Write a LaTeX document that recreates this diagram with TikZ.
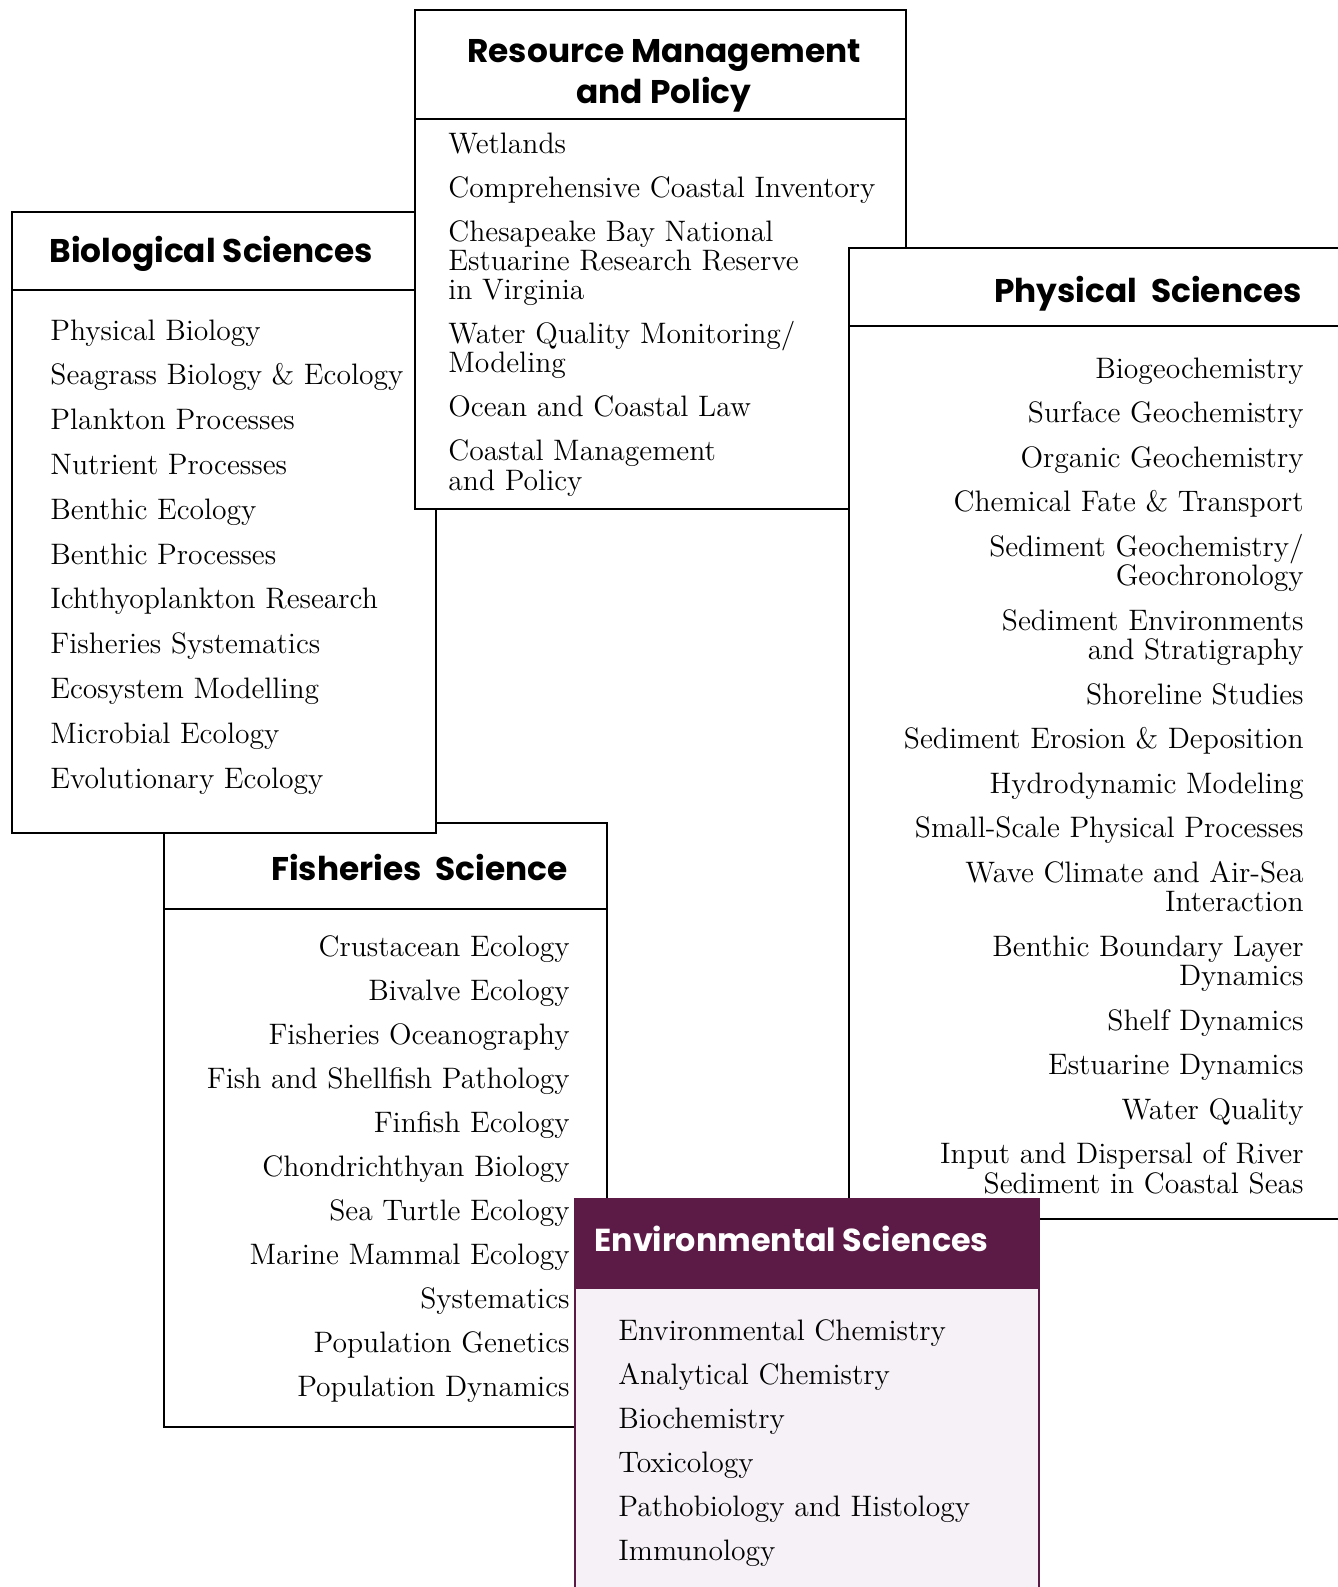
\documentclass[tikz,border=0pt]{standalone}
\usepackage{fontspec}
\usepackage{xcolor}
\newfontfamily\headfont{Poppins}
\definecolor{plum}{RGB}{92,26,70}
\definecolor{lilac}{RGB}{245,241,246}

\begin{document}
\begin{tikzpicture}[
    x=0.5pt, y=-0.5pt,
    box/.style={draw, fill=white, line width=1.2pt},                                  % Subject boxes
    rule/.style={line width=1.2pt},                                                   % Line under a heading
    head/.style={font={\headfont\bfseries\fontsize{16.4}{20.5}\selectfont}, inner sep=0pt}, % Box headings
    items/.style={font={\fontsize{14.8}{14.6}\selectfont}, inner sep=0pt}            % Lists of topics
]
\useasboundingbox (0,0) rectangle (1338,1587);
\clip (0,0) rectangle (1338,1587);

% --- FISHERIES SCIENCE (lowest) ---
\draw[box] (164,823) rectangle (607,1427);
\draw[rule] (164,909) -- (607,909);
\node[head, anchor=base east] (fishhead) at (568,880) {Fisheries~~Science};
\node[items, align=right, anchor=base east] (fishlist) at (570,1396) {
    Crustacean Ecology\\[7.4pt] Bivalve Ecology\\[7.4pt] Fisheries Oceanography\\[7.4pt]
    Fish and Shellfish Pathology\\[7.4pt] Finfish Ecology\\[7.4pt] Chondrichthyan Biology\\[7.4pt]
    Sea Turtle Ecology\\[7.4pt] Marine Mammal Ecology\\[7.4pt] Systematics\\[7.4pt]
    Population Genetics\\[7.4pt] Population Dynamics};

% --- BIOLOGICAL SCIENCES ---
\draw[box] (12,212) rectangle (436,833);
\draw[rule] (12,290) -- (436,290);
\node[head, anchor=base west] (biohead) at (49,262) {Biological Sciences};
\node[items, align=left, anchor=base west] (biolist) at (50,788) {
    Physical Biology\\[7.8pt] Seagrass Biology \& Ecology\\[7.8pt] Plankton Processes\\[7.8pt]
    Nutrient Processes\\[7.8pt] Benthic Ecology\\[7.8pt] Benthic Processes\\[7.8pt]
    Ichthyoplankton Research\\[7.8pt] Fisheries Systematics\\[7.8pt] Ecosystem Modelling\\[7.8pt]
    Microbial Ecology\\[7.8pt] Evolutionary Ecology};

% --- RESOURCE MANAGEMENT AND POLICY ---
\draw[box] (415,10) rectangle (906,509);
\draw[rule] (415,119) -- (906,119);
\node[head, align=center, anchor=base] (reshead) at (664,103) {Resource Management\\and Policy};
\node[items, align=left, anchor=base west] (reslist) at (448,490) {
    Wetlands\\[7.4pt] Comprehensive Coastal Inventory\\[7.4pt]
    Chesapeake Bay National\\ Estuarine Research Reserve\\ in Virginia\\[7.4pt]
    Water Quality Monitoring/\\ Modeling\\[7.4pt] Ocean and Coastal Law\\[7.4pt]
    Coastal Management\\ and Policy};

% --- PHYSICAL SCIENCES ---
\draw[box] (849,248) rectangle (1360,1219);
\draw[rule] (849,326) -- (1360,326);
\node[head, anchor=base east] (physhead) at (1302,302) {Physical~~Sciences};
\node[items, align=right, anchor=base east] (physlist) at (1304,1193) {
    Biogeochemistry\\[7.7pt] Surface Geochemistry\\[7.7pt] Organic Geochemistry\\[7.7pt]
    Chemical Fate \& Transport\\[7.7pt] Sediment Geochemistry/\\ Geochronology\\[7.7pt]
    Sediment Environments\\ and Stratigraphy\\[7.7pt] Shoreline Studies\\[7.7pt]
    Sediment Erosion \& Deposition\\[7.7pt] Hydrodynamic Modeling\\[7.7pt]
    Small-Scale Physical Processes\\[7.7pt] Wave Climate and Air-Sea\\ Interaction\\[7.7pt]
    Benthic Boundary Layer\\ Dynamics\\[7.7pt] Shelf Dynamics\\[7.7pt] Estuarine Dynamics\\[7.7pt]
    Water Quality\\[7.7pt] Input and Dispersal of River\\ Sediment in Coastal Seas};

% --- ENVIRONMENTAL SCIENCES (on top) ---
\draw[box, fill=plum, draw=plum] (575,1199) rectangle (1039,1288);
\draw[box, fill=lilac, draw=plum] (575,1288) rectangle (1039,1600);
\node[head, text=white, font={\headfont\bfseries\fontsize{15.9}{18}\selectfont}, anchor=base west] (envhead) at (594,1251) {Environmental Sciences};
\node[items, align=left, anchor=base west] (envlist) at (618,1560) {
    Environmental Chemistry\\[7.4pt] Analytical Chemistry\\[7.4pt] Biochemistry\\[7.4pt]
    Toxicology\\[7.4pt] Pathobiology and Histology\\[7.4pt] Immunology};

\end{tikzpicture}
\end{document}
